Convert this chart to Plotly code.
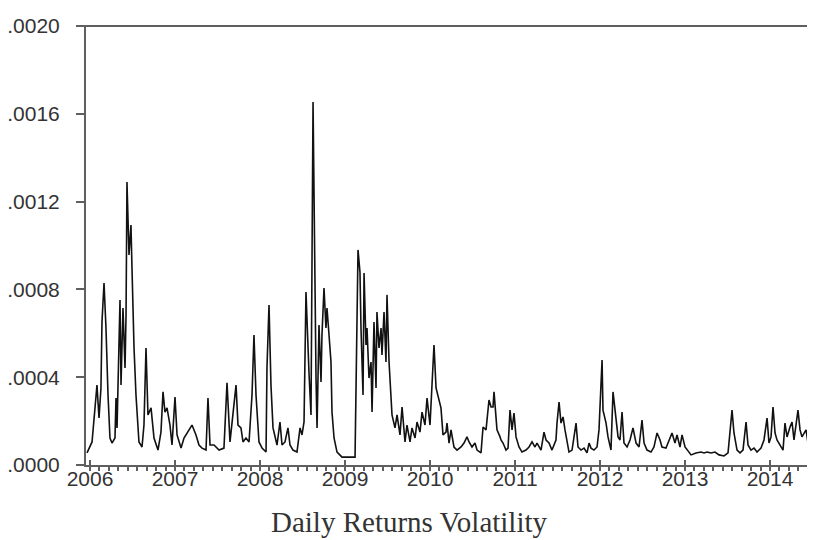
import plotly.graph_objects as go

# decimal-year time stamps and daily-returns volatility
years = [
    2005.965, 2006.024, 2006.082, 2006.106, 2006.129, 2006.141, 2006.165, 2006.188, 2006.212, 2006.235,
    2006.259, 2006.294, 2006.306, 2006.318, 2006.353, 2006.365, 2006.388, 2006.412, 2006.424, 2006.435,
    2006.459, 2006.482, 2006.494, 2006.518, 2006.541, 2006.576, 2006.612, 2006.635, 2006.659, 2006.682,
    2006.718, 2006.753, 2006.800, 2006.835, 2006.859, 2006.882, 2006.906, 2006.941, 2006.965, 2007.000,
    2007.024, 2007.071, 2007.106, 2007.141, 2007.200, 2007.247, 2007.282, 2007.318, 2007.365, 2007.388,
    2007.412, 2007.459, 2007.518, 2007.576, 2007.612, 2007.647, 2007.682, 2007.718, 2007.741, 2007.776,
    2007.800, 2007.835, 2007.871, 2007.906, 2007.929, 2007.953, 2007.988, 2008.024, 2008.071, 2008.082,
    2008.106, 2008.129, 2008.153, 2008.200, 2008.235, 2008.259, 2008.294, 2008.329, 2008.353, 2008.388,
    2008.435, 2008.471, 2008.494, 2008.518, 2008.541, 2008.553, 2008.576, 2008.600, 2008.624, 2008.659,
    2008.671, 2008.694, 2008.718, 2008.729, 2008.753, 2008.776, 2008.788, 2008.812, 2008.835, 2008.847,
    2008.871, 2008.906, 2008.965, 2009.118, 2009.141, 2009.153, 2009.176, 2009.188, 2009.212, 2009.224,
    2009.247, 2009.259, 2009.282, 2009.306, 2009.318, 2009.341, 2009.365, 2009.376, 2009.400, 2009.424,
    2009.435, 2009.459, 2009.482, 2009.494, 2009.518, 2009.541, 2009.553, 2009.588, 2009.612, 2009.647,
    2009.671, 2009.706, 2009.729, 2009.765, 2009.788, 2009.824, 2009.847, 2009.882, 2009.906, 2009.941,
    2009.965, 2010.000, 2010.024, 2010.047, 2010.071, 2010.094, 2010.129, 2010.153, 2010.188, 2010.200,
    2010.224, 2010.247, 2010.282, 2010.318, 2010.365, 2010.400, 2010.435, 2010.459, 2010.494, 2010.529,
    2010.553, 2010.600, 2010.624, 2010.659, 2010.671, 2010.694, 2010.718, 2010.741, 2010.753, 2010.776,
    2010.788, 2010.824, 2010.835, 2010.859, 2010.894, 2010.918, 2010.941, 2010.965, 2010.988, 2011.012,
    2011.047, 2011.082, 2011.129, 2011.165, 2011.200, 2011.235, 2011.259, 2011.306, 2011.341, 2011.365,
    2011.400, 2011.435, 2011.482, 2011.494, 2011.518, 2011.541, 2011.565, 2011.588, 2011.612, 2011.635,
    2011.671, 2011.718, 2011.741, 2011.776, 2011.812, 2011.847, 2011.871, 2011.894, 2011.929, 2011.965,
    2011.988, 2012.012, 2012.024, 2012.035, 2012.071, 2012.094, 2012.129, 2012.153, 2012.188, 2012.212,
    2012.235, 2012.259, 2012.282, 2012.318, 2012.353, 2012.388, 2012.424, 2012.459, 2012.494, 2012.518,
    2012.553, 2012.600, 2012.635, 2012.671, 2012.706, 2012.729, 2012.776, 2012.812, 2012.847, 2012.882,
    2012.906, 2012.941, 2012.965, 2013.000, 2013.024, 2013.071, 2013.129, 2013.188, 2013.224, 2013.259,
    2013.306, 2013.353, 2013.400, 2013.459, 2013.506, 2013.529, 2013.553, 2013.576, 2013.612, 2013.647,
    2013.682, 2013.718, 2013.741, 2013.776, 2013.812, 2013.847, 2013.894, 2013.929, 2013.965, 2013.988,
    2014.012, 2014.035, 2014.059, 2014.082, 2014.129, 2014.153, 2014.176, 2014.200, 2014.235, 2014.259,
    2014.282, 2014.306, 2014.329, 2014.353, 2014.376, 2014.424, 2014.447, 2014.482, 2014.518,
]

volatility = [
    0.000055, 0.000105, 0.000364, 0.000214, 0.000351, 0.000651, 0.000829, 0.000624, 0.000319, 0.000123,
    0.000100, 0.000123, 0.000305, 0.000169, 0.000752, 0.000364, 0.000715, 0.000442, 0.000683, 0.001289,
    0.000957, 0.001093, 0.000897, 0.000533, 0.000319, 0.000105, 0.000082, 0.000182, 0.000533, 0.000228,
    0.000260, 0.000123, 0.000068, 0.000150, 0.000333, 0.000241, 0.000260, 0.000182, 0.000091, 0.000310,
    0.000137, 0.000077, 0.000123, 0.000146, 0.000182, 0.000137, 0.000091, 0.000077, 0.000068, 0.000305,
    0.000091, 0.000091, 0.000068, 0.000077, 0.000374, 0.000105, 0.000241, 0.000364, 0.000182, 0.000169,
    0.000105, 0.000123, 0.000105, 0.000319, 0.000592, 0.000319, 0.000105, 0.000077, 0.000059, 0.000442,
    0.000729, 0.000364, 0.000169, 0.000091, 0.000196, 0.000091, 0.000105, 0.000169, 0.000091, 0.000068,
    0.000059, 0.000169, 0.000137, 0.000196, 0.000788, 0.000624, 0.000424, 0.000228, 0.001654, 0.000396,
    0.000169, 0.000638, 0.000378, 0.000592, 0.000806, 0.000624, 0.000715, 0.000592, 0.000469, 0.000241,
    0.000123, 0.000059, 0.000036, 0.000036, 0.000638, 0.000980, 0.000879, 0.000624, 0.000319, 0.000875,
    0.000547, 0.000624, 0.000396, 0.000469, 0.000241, 0.000651, 0.000351, 0.000697, 0.000533, 0.000624,
    0.000501, 0.000697, 0.000469, 0.000775, 0.000469, 0.000273, 0.000228, 0.000169, 0.000228, 0.000137,
    0.000264, 0.000105, 0.000182, 0.000105, 0.000169, 0.000123, 0.000196, 0.000150, 0.000241, 0.000182,
    0.000305, 0.000182, 0.000396, 0.000547, 0.000351, 0.000319, 0.000260, 0.000137, 0.000150, 0.000191,
    0.000100, 0.000160, 0.000082, 0.000068, 0.000082, 0.000100, 0.000128, 0.000105, 0.000082, 0.000100,
    0.000068, 0.000055, 0.000173, 0.000160, 0.000219, 0.000296, 0.000264, 0.000264, 0.000333, 0.000219,
    0.000160, 0.000128, 0.000114, 0.000100, 0.000068, 0.000077, 0.000250, 0.000160, 0.000237, 0.000128,
    0.000082, 0.000059, 0.000068, 0.000082, 0.000105, 0.000082, 0.000100, 0.000068, 0.000150, 0.000114,
    0.000100, 0.000068, 0.000114, 0.000191, 0.000287, 0.000191, 0.000219, 0.000160, 0.000100, 0.000059,
    0.000068, 0.000191, 0.000082, 0.000068, 0.000077, 0.000055, 0.000100, 0.000077, 0.000068, 0.000082,
    0.000160, 0.000387, 0.000478, 0.000250, 0.000191, 0.000128, 0.000068, 0.000333, 0.000191, 0.000128,
    0.000114, 0.000241, 0.000100, 0.000082, 0.000114, 0.000169, 0.000100, 0.000082, 0.000205, 0.000100,
    0.000068, 0.000059, 0.000082, 0.000146, 0.000114, 0.000082, 0.000077, 0.000114, 0.000146, 0.000100,
    0.000137, 0.000082, 0.000137, 0.000082, 0.000068, 0.000046, 0.000055, 0.000059, 0.000055, 0.000059,
    0.000055, 0.000059, 0.000046, 0.000041, 0.000055, 0.000146, 0.000250, 0.000146, 0.000068, 0.000055,
    0.000068, 0.000196, 0.000091, 0.000068, 0.000077, 0.000059, 0.000077, 0.000114, 0.000214, 0.000100,
    0.000128, 0.000264, 0.000146, 0.000114, 0.000082, 0.000068, 0.000191, 0.000128, 0.000173, 0.000196,
    0.000114, 0.000182, 0.000250, 0.000160, 0.000128, 0.000160, 0.000100, 0.000077, 0.000082,
]

year_ticks = [2006, 2007, 2008, 2009, 2010, 2011, 2012, 2013, 2014]
year_labels = ["2006", "2007", "2008", "2009", "2010", "2011", "2012", "2013", "2014"]
y_ticks = [0.0, 0.0004, 0.0008, 0.0012, 0.0016, 0.0020]
y_labels = [".0000", ".0004", ".0008", ".0012", ".0016", ".0020"]
title_text = "Daily Returns Volatility"

AXIS = "#5f5f5f"
TEXT = "#333333"

fig = go.Figure()
fig.add_trace(go.Scatter(
    x=years, y=volatility, mode="lines",
    line=dict(color="#111111", width=1.6),
    showlegend=False, hoverinfo="skip",
))

# the page body adds an 8px offset, so the figure is sized to fill the rest
fig.update_layout(
    width=799, height=532,
    margin=dict(l=78, r=0, t=18, b=75, autoexpand=False),
    paper_bgcolor="white", plot_bgcolor="white",
    font=dict(family="Liberation Sans, Arial, sans-serif", color=TEXT, size=20),
    annotations=[dict(
        text=title_text, xref="paper", yref="paper",
        x=0.449, y=-0.13, xanchor="center", yanchor="middle",
        showarrow=False,
        font=dict(family="Liberation Serif, Times New Roman, serif", size=29, color=TEXT),
    )],
    shapes=[dict(
        type="line", xref="paper", yref="paper", x0=-0.012, x1=1, y0=1, y1=1,
        line=dict(color=AXIS, width=2),
    )],
)

fig.update_xaxes(
    range=[2005.953, 2014.435], automargin=False,
    tickmode="array", tickvals=year_ticks, ticktext=year_labels,
    showgrid=False, zeroline=False,
    showline=True, linecolor=AXIS, linewidth=2, mirror=False,
    ticks="inside", ticklen=5, tickcolor=AXIS, tickwidth=1.5,
    tickfont=dict(size=21, color=TEXT),
    ticklabelstandoff=-6,
    minor=dict(ticks="outside", ticklen=4, tickcolor=AXIS, dtick=1/9, tick0=2006, showgrid=False),
)
fig.update_yaxes(
    range=[0, 0.002], automargin=False,
    tickmode="array", tickvals=y_ticks, ticktext=y_labels,
    showgrid=False, zeroline=False,
    showline=True, linecolor=AXIS, linewidth=2, mirror=False,
    ticks="outside", ticklen=8, tickcolor=AXIS, tickwidth=1.5,
    tickfont=dict(size=21, color=TEXT),
    ticklabelstandoff=12,
)

fig.write_html("out.html")
